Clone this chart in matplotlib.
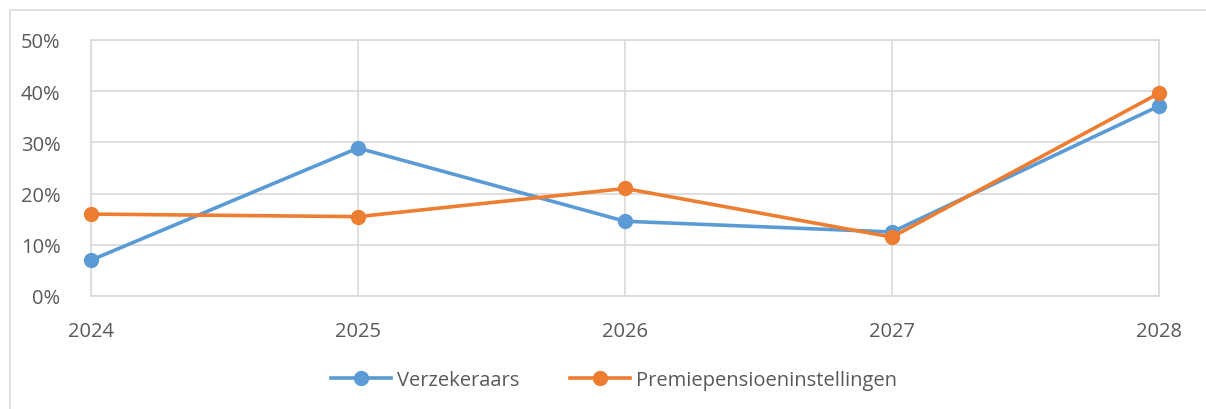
import matplotlib
matplotlib.use("Agg")
import matplotlib.pyplot as plt
from matplotlib.patches import Rectangle
from matplotlib.ticker import FuncFormatter

years = [2024, 2025, 2026, 2027, 2028]
verzekeraars = [7.0, 28.9, 14.6, 12.5, 37.1]
premiepensioen = [16.0, 15.5, 21.0, 11.5, 39.6]

plt.rcParams["font.family"] = ["Open Sans", "DejaVu Sans"]

W, H = 1206, 410
fig = plt.figure(figsize=(W / 100, H / 100), dpi=100)
ax = fig.add_axes([91 / W, 1 - 297 / H, (1159 - 91) / W, (297 - 41) / H])

# outer chart border
fig.patches.append(Rectangle((10 / W, -0.1), 1.2, 1 - 11 / H + 0.1, transform=fig.transFigure,
                             fill=False, edgecolor="#d9d9d9", lw=1.2))

blue = "#5b9bd5"
orange = "#ed7d31"
ax.plot(years, verzekeraars, color=blue, lw=2.6, marker="o", ms=10, label="Verzekeraars",
        zorder=3, clip_on=False)
ax.plot(years, premiepensioen, color=orange, lw=2.6, marker="o", ms=10,
        label="Premiepensioeninstellingen", zorder=3, clip_on=False)

ax.set_xlim(2024, 2028)
ax.set_ylim(0, 50)
ax.set_xticks(years)
ax.set_yticks(range(0, 51, 10))
ax.yaxis.set_major_formatter(FuncFormatter(lambda v, p: f"{v:.0f}%"))
ax.grid(True, color="#d9d9d9", lw=1.2)
ax.set_axisbelow(True)
for s in ax.spines.values():
    s.set_color("#d9d9d9")
    s.set_linewidth(1.2)
ax.tick_params(length=0, labelsize=14.5, labelcolor="#595959")
ax.tick_params(axis="x", pad=18)
ax.tick_params(axis="y", pad=22)

ax.legend(loc="center", bbox_to_anchor=(614 / W, 1 - 381 / H), bbox_transform=fig.transFigure,
          ncol=2, frameon=False, fontsize=14.5, labelcolor="#595959", handlelength=3,
          columnspacing=2.5, handletextpad=0.3)

fig.savefig("out.png", dpi=100)
